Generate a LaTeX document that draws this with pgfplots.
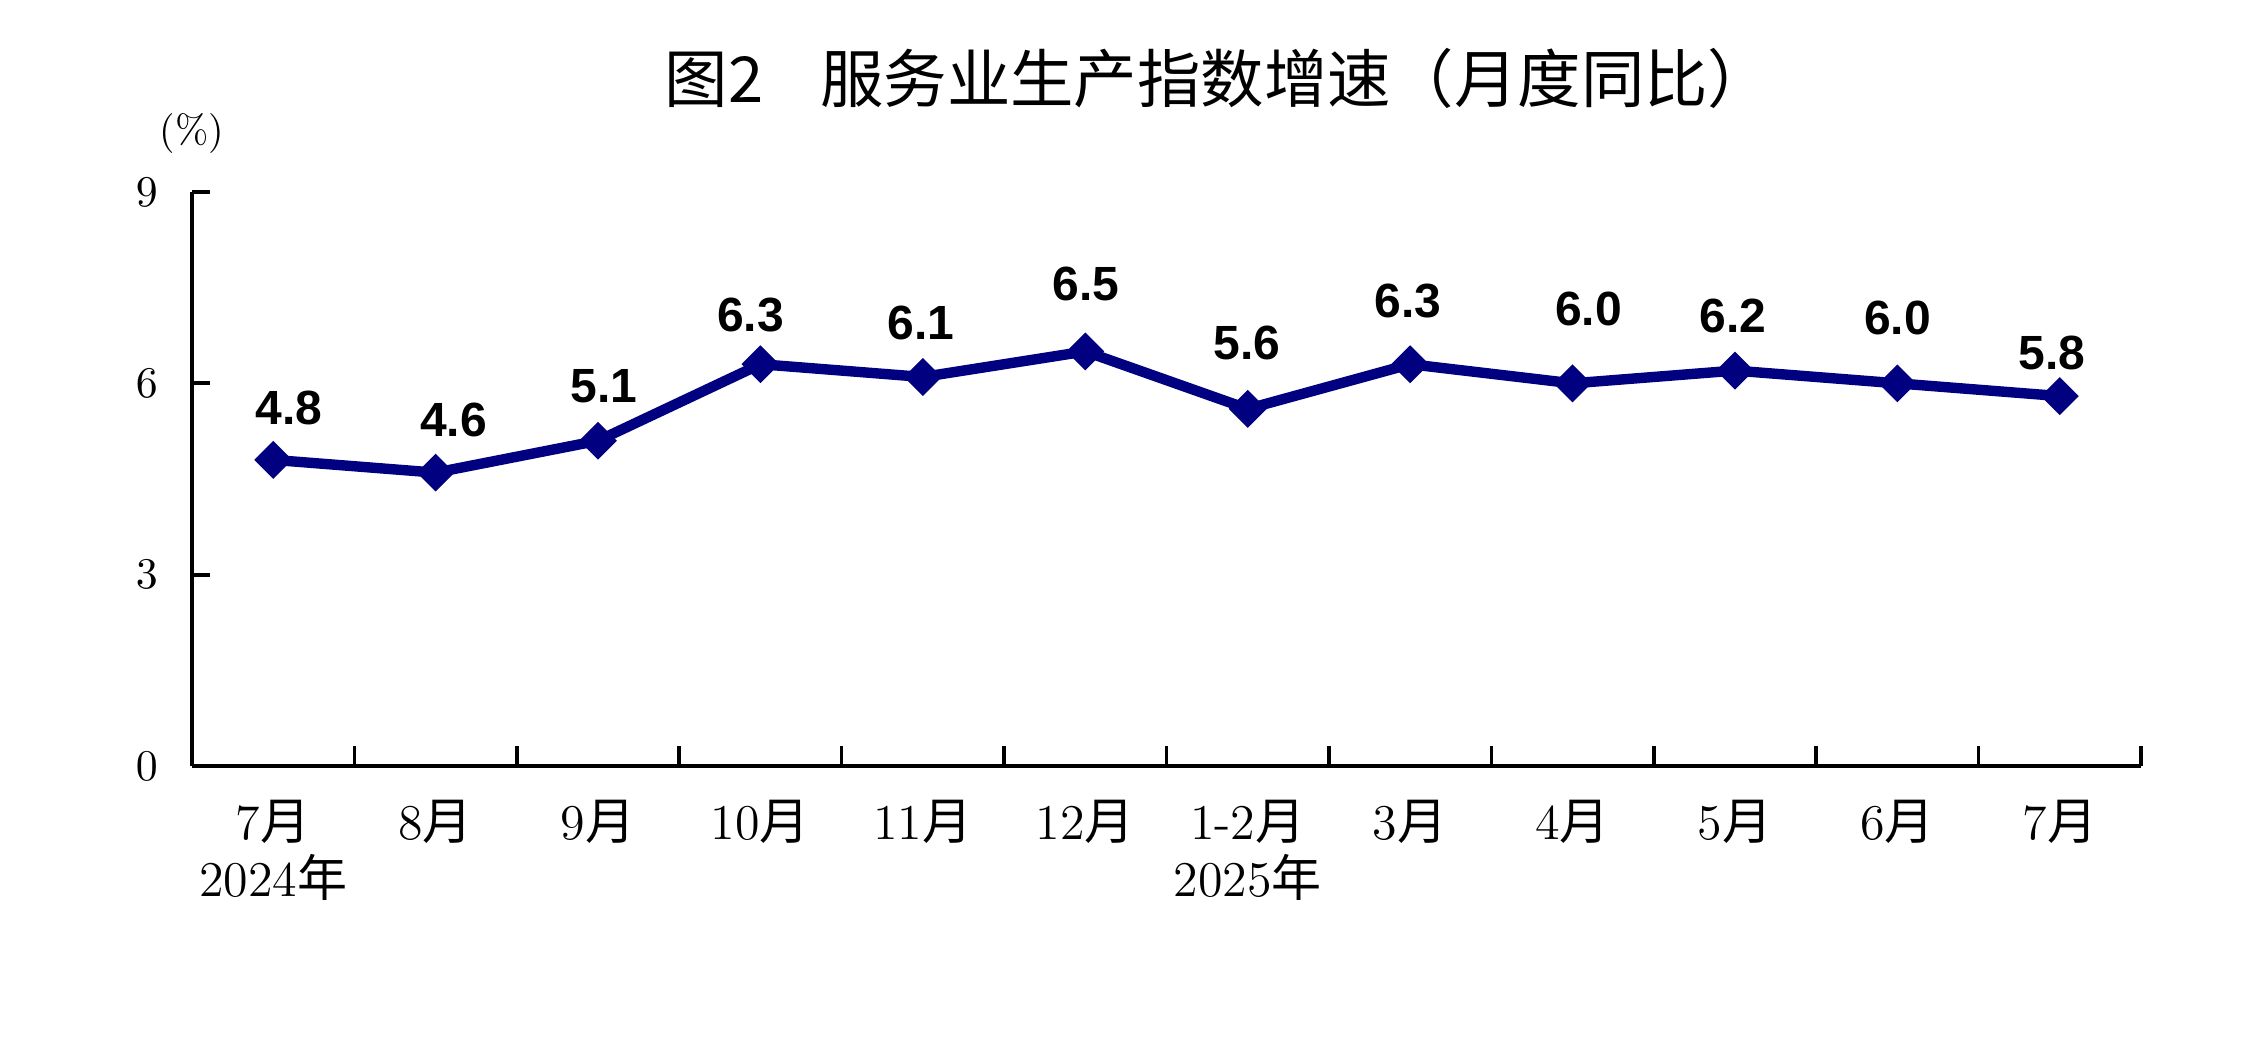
\documentclass[border=0pt]{standalone}
\usepackage{fontspec}
\usepackage{pgfplots}
\usepackage{pgfplotstable}
\pgfplotsset{compat=1.18}
\newfontfamily\cjk{Noto Sans CJK SC}
\newfontfamily\lab{Liberation Sans}
\definecolor{navy}{RGB}{0,0,128}
\newcommand{\yue}{{\cjk 月}}
\newcommand{\nian}{{\cjk 年}}

% x, growth rate, label offsets (pt)
\pgfplotstableread{
x  y    lab  dx    dy
0  4.8  4.8  4     13
1  4.6  4.6  4.5   13.25
2  5.1  5.1  1.5   13.75
3  6.3  6.3  -2.5  12.25
4  6.1  6.1  -0.5  13.5
5  6.5  6.5  0.25  16.75
6  5.6  5.6  -0.25 16.5
7  6.3  6.3  -0.5  15.75
8  6.0  6.0  4     18.5
9  6.2  6.2  -0.5  13.75
10 6.0  6.0  0     16.25
11 5.8  5.8  -2    10.75
}\services

\begin{document}
\begin{tikzpicture}
\useasboundingbox (0,0) rectangle (563pt,263pt);
\node[font=\cjk\fontsize{15.85}{16}\selectfont] at (304.5pt,243.4pt) {图2\hspace{0.9em}服务业生产指数增速（月度同比）};
\node[font=\fontsize{10}{10}\selectfont] at (48pt,229.5pt) {(\%)};
\begin{axis}[
  at={(48pt,71.5pt)}, anchor=south west,
  scale only axis,
  width=487.25pt, height=143.5pt,
  xmin=-0.5, xmax=11.5,
  ymin=0, ymax=9,
  axis x line*=bottom, axis y line*=left,
  axis line style={line width=0.9pt, black, -},
  tick align=inside,
  ytick={0,3,6,9},
  major tick length=4.5pt,
  major y tick style={line width=1pt, black},
  xtick={0,...,11},
  major x tick style={draw=none},
  minor xtick={0.5,1.5,...,11.5},
  minor tick length=5pt,
  minor x tick style={line width=0.9pt, black},
  xticklabels={{7\yue\\2024\nian},{8\yue},{9\yue},{10\yue},{11\yue},{12\yue},{1-2\yue\\2025\nian},{3\yue},{4\yue},{5\yue},{6\yue},{7\yue}},
  xticklabel style={align=center, font=\fontsize{12.5}{14.25}\selectfont, yshift=-5pt},
  yticklabel style={font=\fontsize{11}{11}\selectfont, xshift=-5pt},
  clip=false,
  nodes near coords,
  point meta=explicit symbolic,
  visualization depends on={\thisrow{dx} \as \dx},
  visualization depends on={\thisrow{dy} \as \dy},
  every node near coord/.append style={anchor=center, xshift=\dx pt, yshift=\dy pt,
    font=\lab\bfseries\fontsize{12}{12}\selectfont, text=black},
]
\addplot[color=navy, line width=2.6pt, mark=square*, mark size=3.2pt,
  mark options={rotate=45, line width=0.3pt, fill=navy}]
  table[x=x, y=y, meta=lab] {\services};
\end{axis}
\end{tikzpicture}
\end{document}
